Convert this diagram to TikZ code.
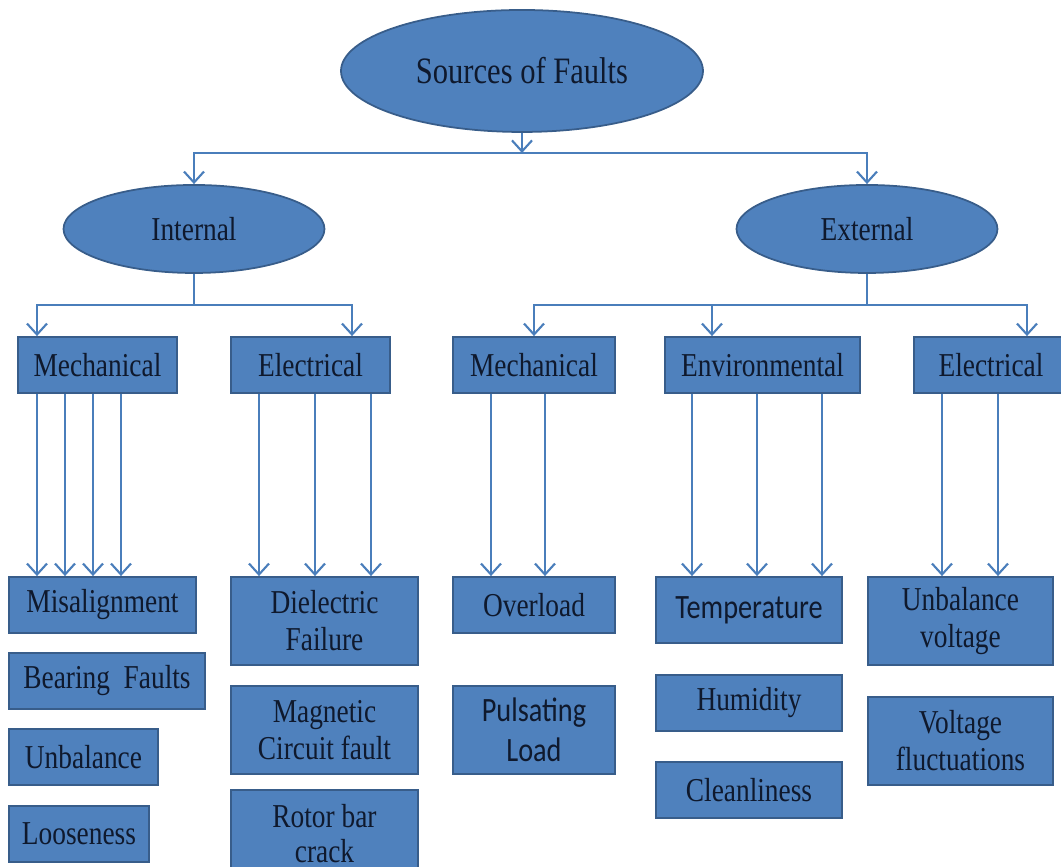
\documentclass[tikz,border=0pt]{standalone}
\usepackage{fontspec}
\setmainfont{Liberation Serif}[FakeStretch=0.82]
\newfontfamily\calfont{Carlito}[FakeStretch=0.83]
\usepackage{tikz}
\usetikzlibrary{arrows.meta,shapes.geometric}
\definecolor{boxblue}{HTML}{4F81BD}
\definecolor{edgeblue}{HTML}{385D8A}
\definecolor{linkblue}{HTML}{4A7EBB}
\definecolor{inkblue}{RGB}{15,25,45}

\begin{document}
\begin{tikzpicture}[
  oval/.style={ellipse, draw=edgeblue, line width=0.5pt, fill=boxblue, inner sep=0pt, text=inkblue, font=\fontsize{9.5}{10.5}\selectfont},
  cat/.style={draw=edgeblue, line width=0.5pt, fill=boxblue, inner sep=0pt, minimum height=0.56cm, text=inkblue, align=center, font=\fontsize{9.5}{10.5}\selectfont},
  tall/.style={cat, minimum height=0.88cm},
  link/.style={draw=linkblue, line width=0.6pt},
  arr/.style={link, -{Straight Barb[length=1.1mm,width=2mm]}}
]
\useasboundingbox (0,0) rectangle (10.61,8.67);

\node[oval, minimum width=3.62cm, minimum height=1.22cm, font=\fontsize{10.6}{12}\selectfont] (top) at (5.22,7.96) {Sources of Faults};
\node[oval, minimum width=2.61cm, minimum height=0.88cm] (int) at (1.94,6.38) {Internal};
\node[oval, minimum width=2.61cm, minimum height=0.88cm] (ext) at (8.67,6.38) {External};

\node[cat, minimum width=1.59cm] (imech) at (0.975,5.02) {Mechanical};
\node[cat, minimum width=1.59cm] (ielec) at (3.105,5.02) {Electrical};
\node[cat, minimum width=1.62cm] (emech) at (5.34,5.02) {Mechanical};
\node[cat, minimum width=1.95cm] (env) at (7.625,5.02) {Environmental};
\node[cat, minimum width=1.54cm] (eelec) at (9.91,5.02) {Electrical};

\node[cat, minimum width=1.87cm] (mis) at (1.025,2.62) {Misalignment};
\node[cat, minimum width=1.96cm] (bear) at (1.07,1.86) {Bearing\ \ Faults};
\node[cat, minimum width=1.49cm] (unb) at (0.835,1.10) {Unbalance};
\node[cat, minimum width=1.40cm] (loose) at (0.79,0.33) {Looseness};

\node[tall, minimum width=1.87cm] (diel) at (3.245,2.46) {Dielectric\\Failure};
\node[tall, minimum width=1.87cm] (magn) at (3.245,1.37) {Magnetic\\Circuit fault};
\node[tall, minimum width=1.87cm, font=\fontsize{9.5}{10}\selectfont] (rotor) at (3.245,0.33) {Rotor bar\\crack};

\node[cat, minimum width=1.62cm] (over) at (5.34,2.62) {Overload};
\node[tall, minimum width=1.62cm, font=\calfont\fontsize{9.7}{11.5}\selectfont] (puls) at (5.34,1.37) {Pulsating\\Load};

\node[cat, minimum width=1.86cm, minimum height=0.66cm, font=\calfont\fontsize{9.7}{11.5}\selectfont] (temp) at (7.49,2.57) {Temperature};
\node[cat, minimum width=1.86cm] (hum) at (7.49,1.64) {Humidity};
\node[cat, minimum width=1.86cm] (clean) at (7.49,0.77) {Cleanliness};

\node[tall, minimum width=1.85cm] (unbv) at (9.605,2.46) {Unbalance\\voltage};
\node[tall, minimum width=1.85cm] (volt) at (9.605,1.26) {Voltage\\fluctuations};

\coordinate (j0) at (5.22,7.14);
\coordinate (j1) at (1.94,5.62);
\coordinate (j2) at (8.67,5.62);

\draw[arr] (top.south) -- (j0);
\draw[arr] (j0) -| (int.north);
\draw[arr] (j0) -| (ext.north);

\draw[link] (int.south) -- (j1);
\draw[arr] (j1) -| ([xshift=-6.05mm]imech.north);
\draw[arr] (j1) -| ([xshift=4.15mm]ielec.north);

\draw[link] (ext.south) -- (j2);
\draw[arr] (j2) -| (emech.north);
\draw[arr] (j2) -| ([xshift=-5.05mm]env.north);
\draw[arr] (j2) -| ([xshift=3.6mm]eelec.north);

\foreach \dx in {-6.05,-3.25,-0.45,2.35}
  \draw[arr] ([xshift=\dx mm]imech.south) -- ([xshift=\dx mm]imech.south |- mis.north);
\foreach \dx in {-5.15,0.45,6.05}
  \draw[arr] ([xshift=\dx mm]ielec.south) -- ([xshift=\dx mm]ielec.south |- diel.north);
\foreach \dx in {-4.3,1.1}
  \draw[arr] ([xshift=\dx mm]emech.south) -- ([xshift=\dx mm]emech.south |- over.north);
\foreach \dx in {-7.05,-0.55,5.95}
  \draw[arr] ([xshift=\dx mm]env.south) -- ([xshift=\dx mm]env.south |- temp.north);
\foreach \dx in {-4.9,0.7}
  \draw[arr] ([xshift=\dx mm]eelec.south) -- ([xshift=\dx mm]eelec.south |- unbv.north);
\end{tikzpicture}
\end{document}
